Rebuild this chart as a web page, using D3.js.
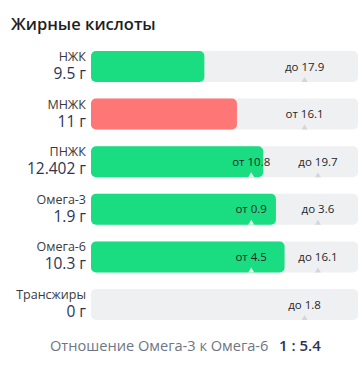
<!DOCTYPE html>
<html><head><meta charset="utf-8">
<script src="https://cdn.jsdelivr.net/npm/d3@7"></script>
<style>
html,body{margin:0;padding:0;background:#fff;}
svg{display:block;font-family:"Open Sans",sans-serif;}
</style></head>
<body><svg id="c" width="361" height="365"></svg>
<script>
const title = "Жирные кислоты";
const names = ["НЖК","МНЖК","ПНЖК","Омега-3","Омега-6","Трансжиры"];
const values = [9.5, 11, 12.402, 1.9, 10.3, 0];
const valueLabels = ["9.5 г","11 г","12.402 г","1.9 г","10.3 г","0 г"];
const mins = [null, 16.1, 10.8, 0.9, 4.5, null];
const maxs = [17.9, null, 19.7, 3.6, 16.1, 1.8];
const statuses = ["ok","low","ok","ok","ok","ok"];
const ratioLabel = "Отношение Омега-3 к Омега-6";
const ratioValue = "1 : 5.4";

const colors = {ok:"#19dd80", low:"#ff7676"};
const svg = d3.select("#c");
const x0 = 91, x1 = 358, W = x1 - x0;

svg.append("text").attr("x",11).attr("y",30)
  .attr("font-size",16.5).attr("font-weight",600).attr("fill","#1e1e1e").text(title);

const y = d3.scaleBand().domain(names).range([51,320]).paddingInner(0.35).paddingOuter(0);
const bh = y.bandwidth();

names.forEach((n,i)=>{
  const lo = mins[i], hi = maxs[i];
  let dom, rng;
  if (lo!=null && hi!=null){ dom=[0,lo,hi]; rng=[0,0.6*W,0.85*W]; }
  else { dom=[0, lo!=null?lo:hi]; rng=[0,0.8*W]; }
  const xs = d3.scaleLinear().domain(dom).range(rng).clamp(true);
  const top = y(n);
  const g = svg.append("g");
  g.append("rect").attr("x",x0).attr("y",top).attr("width",W).attr("height",bh)
    .attr("rx",5).attr("fill","#eff0f2");
  const bw = xs(values[i]);
  if (bw>0) g.append("rect").attr("x",x0).attr("y",top).attr("width",bw).attr("height",bh)
    .attr("rx",5).attr("fill",colors[statuses[i]]);
  const marks = [];
  if (lo!=null) marks.push(["от "+lo, xs(lo)]);
  if (hi!=null) marks.push(["до "+hi, xs(hi)]);
  marks.forEach(([t,mx])=>{
    const cx = x0+mx;
    const inside = mx < bw;
    g.append("path").attr("d",`M${cx-3},${top+bh} L${cx},${top+bh-5} L${cx+3},${top+bh} Z`)
      .attr("fill", inside ? "#e6f8ee" : "#d3d6db");
    g.append("text").attr("x",cx).attr("y",top+19.5).attr("text-anchor","middle")
      .attr("font-size",11.5).attr("fill","#262626").text(t);
  });
  svg.append("text").attr("x",86).attr("y",top+10).attr("text-anchor","end")
    .attr("font-size",12.5).attr("fill","#3a3a3a").text(n);
  svg.append("text").attr("x",86).attr("y",top+28).attr("text-anchor","end")
    .attr("font-size",15.5).attr("font-weight",500).attr("fill","#2b3452").text(valueLabels[i]);
});

svg.append("text").attr("x",50).attr("y",351).attr("font-size",14.6).attr("fill","#6e7585").text(ratioLabel);
svg.append("text").attr("x",279).attr("y",351).attr("font-size",15).attr("font-weight",600).attr("fill","#2b3452").text(ratioValue);
</script></body></html>
